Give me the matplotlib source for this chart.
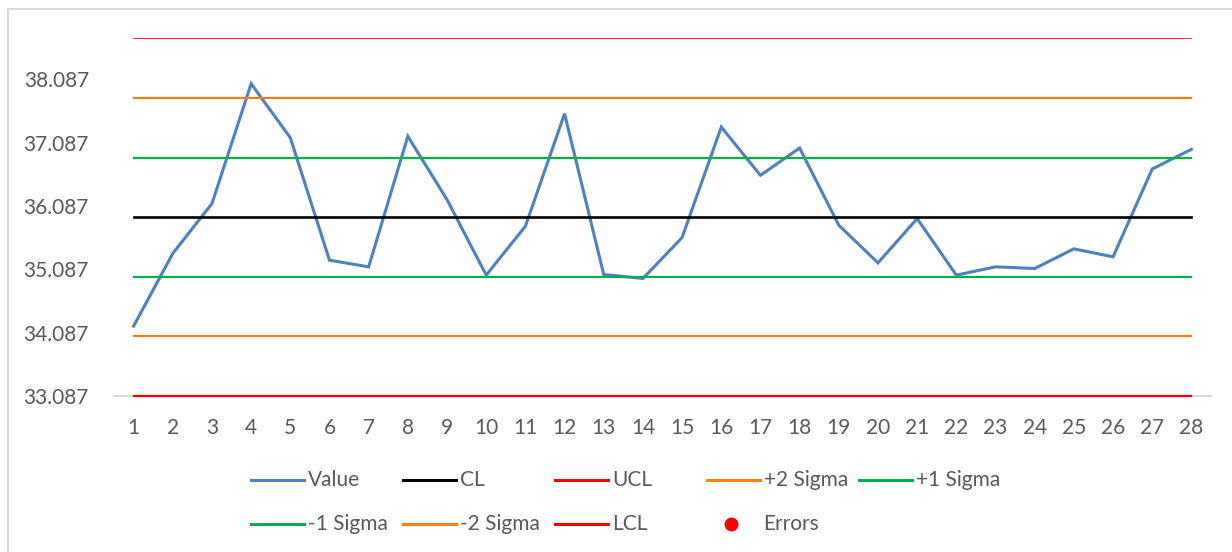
#!/usr/bin/env python3
"""
Control chart: 28 samples plotted against the centre line, the +/-1 and
+/-2 sigma bands and the 3-sigma control limits.
"""
import matplotlib
matplotlib.use("Agg")
import matplotlib.pyplot as plt
from matplotlib.lines import Line2D
import numpy as np

plt.rcParams["font.family"] = ["Lato", "DejaVu Sans"]

# ── Data ──────────────────────────────────────────────────────────────────────
samples = list(range(1, 29))
values = [
    34.191, 35.338, 36.126, 38.019, 37.167, 35.232, 35.127, 37.188,
    36.189, 34.996, 35.768, 37.545, 35.006, 34.943, 35.590, 37.335,
    36.573, 37.004, 35.784, 35.190, 35.889, 34.996, 35.127, 35.101,
    35.411, 35.285, 36.673, 36.983,
]
CL = 35.912
SIGMA = 0.9417
errors = []  # no points outside the limits

BLUE   = "#4F81BD"
BLACK  = "#000000"
RED    = "#FF0000"
ORANGE = "#FF7F0E"
GREEN  = "#00B050"
GRAY   = "#595959"
FRAME  = "#D9D9D9"

# (label, level offset in sigmas, colour, linewidth)
limits = [
    ("CL",       0, BLACK,  1.9),
    ("UCL",      3, RED,    1.2),
    ("+2 Sigma", 2, ORANGE, 1.6),
    ("+1 Sigma", 1, GREEN,  1.6),
    ("-1 Sigma", -1, GREEN, 1.6),
    ("-2 Sigma", -2, ORANGE, 1.6),
    ("LCL",      -3, RED,   1.6),
]

W, H = 1232, 552
FS = 15


def px(x, y):
    """pixel position -> figure fraction"""
    return x / W, 1 - y / H


def main():
    fig = plt.figure(figsize=(W / 100, H / 100), dpi=100)
    x0, y0 = px(114, 396)
    x1, y1 = px(1211, 38.3)
    ax = fig.add_axes([x0, y0, x1 - x0, y1 - y0])

    ax.plot(samples, values, color=BLUE, lw=2.2, zorder=2,
            solid_joinstyle="miter")
    for name, k, col, lw in limits:
        level = CL + k * SIGMA
        ax.plot(samples, [level] * len(samples), color=col, lw=lw, zorder=3,
                clip_on=(k != -3))
    if errors:
        ax.scatter(*zip(*errors), color=RED, s=50, zorder=4)

    lcl, ucl = CL - 3 * SIGMA, CL + 3 * SIGMA
    ax.set_xlim(0.5, len(samples) + 0.5)
    ax.set_ylim(lcl, ucl)
    ax.set_xticks(samples)
    ax.set_xticklabels([str(s) for s in samples])
    yt = np.arange(lcl, ucl, 1.0)
    ax.set_yticks(yt)
    ax.set_yticklabels([f"{v:.3f}" for v in yt])
    ax.tick_params(axis="both", length=0, labelsize=FS, labelcolor=GRAY)
    ax.tick_params(axis="y", pad=18)
    ax.tick_params(axis="x", pad=16)

    for side in ("top", "right", "left"):
        ax.spines[side].set_visible(False)
    ax.spines["bottom"].set_color(FRAME)
    ax.spines["bottom"].set_linewidth(1.5)
    ax.spines["bottom"].set_zorder(1)

    # chart frame (left and top edges)
    fx, fy = px(8, 9)
    fig.add_artist(Line2D([fx, fx], [0, fy], color=FRAME, lw=1.5))
    fig.add_artist(Line2D([fx, 1], [fy, fy], color=FRAME, lw=1.5))

    # legend laid out in fixed-width columns
    entries = [("Value", BLUE)] + [(n, c) for n, _, c, _ in limits] + [("Errors", None)]
    for i, (name, col) in enumerate(entries):
        row, colidx = divmod(i, 5)
        lx = 251 + 152 * colidx
        ly = 480 + 44 * row
        if col is None:
            mx, my = px(lx + 24, ly)
            fig.add_artist(Line2D([mx], [my], marker="o", color=RED,
                                  markersize=9, linestyle="none"))
            tx, ty = px(lx + 56, ly)
        else:
            a, b = px(lx, ly)
            c, _ = px(lx + 53, ly)
            fig.add_artist(Line2D([a, c], [b, b], color=col, lw=2.2))
            tx, ty = px(lx + 57, ly)
        fig.text(tx, ty, name, fontsize=FS, color=GRAY, ha="left", va="center")

    fig.savefig("out.png", dpi=100, facecolor="white")
    plt.close(fig)


if __name__ == "__main__":
    main()
